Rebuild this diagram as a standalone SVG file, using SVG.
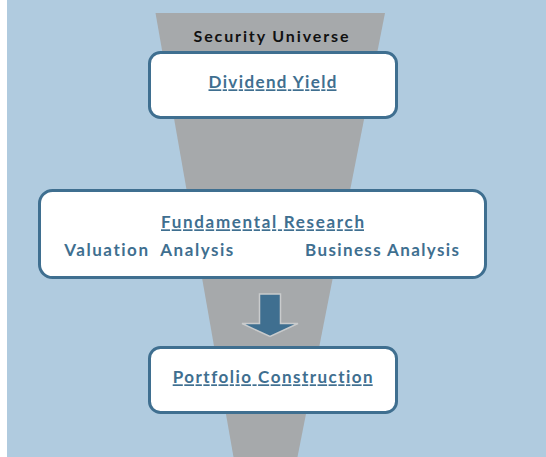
<svg xmlns="http://www.w3.org/2000/svg" width="546" height="457" viewBox="0 0 546 457">
<style>
.box{fill:#ffffff;stroke:#3f6f90;stroke-width:3}
.t{font-family:Lato,"Open Sans","Liberation Sans",sans-serif;font-weight:bold;font-size:17px;fill:#3f6f90;font-variant-ligatures:none}
.u{text-decoration:underline;text-decoration-skip-ink:none}
.k{font-family:Lato,"Open Sans","Liberation Sans",sans-serif;font-weight:bold;font-size:16px;fill:#111111;font-variant-ligatures:none}
</style>
<rect x="0" y="0" width="546" height="457" fill="#ffffff"/>
<rect x="7" y="0" width="539" height="457" fill="#b0cbdf"/>
<polygon points="155.5,13 385,13 297.5,457 233.5,457" fill="#a6a9ab"/>
<text class="k" x="271" y="42" text-anchor="middle" textLength="155" lengthAdjust="spacing">Security Universe</text>
<g id="connectors">
<polygon points="259.5,294 280.5,294 280.5,323.5 298,323.5 270,336.5 242,323.5 259.5,323.5" fill="#3f6f90" stroke="#c9cbcc" stroke-width="1.5"/>
</g>
<g id="dividend-yield">
<rect class="box" x="149.5" y="52.5" width="247" height="65" rx="11"/>
<text class="t u" x="272.5" y="88.3" text-anchor="middle" textLength="128" lengthAdjust="spacing">Dividend Yield</text>
</g>
<g id="fundamental-research">
<rect class="box" x="39.5" y="190.5" width="446" height="87" rx="13"/>
<text class="t u" x="262.5" y="228.3" text-anchor="middle" textLength="203" lengthAdjust="spacing">Fundamental Research</text>
<text class="t" x="64.3" y="256" textLength="169" lengthAdjust="spacing" xml:space="preserve">Valuation  Analysis</text>
<text class="t" x="305" y="256" textLength="154" lengthAdjust="spacing">Business Analysis</text>
</g>
<g id="portfolio-construction">
<rect class="box" x="149.5" y="347.5" width="247" height="65" rx="11"/>
<text class="t u" x="272.7" y="383.3" text-anchor="middle" textLength="200" lengthAdjust="spacing">Portfolio Construction</text>
</g>
</svg>
